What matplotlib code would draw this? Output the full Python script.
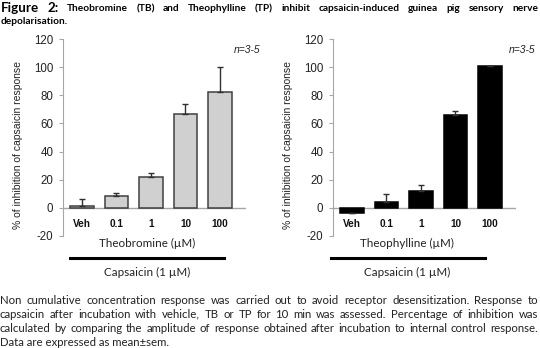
import matplotlib
matplotlib.use("Agg")
import matplotlib.pyplot as plt

# Concentrations and responses (% inhibition of capsaicin response, mean ± sem)
conc = ["Veh", "0.1", "1", "10", "100"]
tb_mean = [1, 8.5, 22, 66.5, 82]
tb_sem = [5.5, 2.2, 3, 7, 18]
tp_mean = [-3.3, 4.5, 12, 66, 100.5]
tp_sem = [0, 5, 4, 2.8, 0.3]
yticks = [-20, 0, 20, 40, 60, 80, 100, 120]

W, H = 540, 348
fig = plt.figure(figsize=(W / 100, H / 100), dpi=100)
fig.patch.set_facecolor("white")

BODY = "Lato"
ARIAL = "Liberation Sans"


def fx(x):
    return x / W


def fy(y):
    return 1 - y / H


def justify(items, y, x0, x1):
    """Place words so the line spans x0..x1 pixels (justified)."""
    r = fig.canvas.get_renderer()
    texts = []
    for word, kw in items:
        t = fig.text(0, fy(y), word, va="center", ha="left", **kw)
        texts.append(t)
    widths = [t.get_window_extent(renderer=r).width for t in texts]
    gap = (x1 - x0 - sum(widths)) / max(len(texts) - 1, 1)
    x = x0
    for t, w in zip(texts, widths):
        t.set_x(fx(x))
        x += w + gap


def words(s, **kw):
    return [(w, kw) for w in s.split()]


# Title
tkw = dict(family=BODY, weight="bold", size=7.3)
fkw = dict(family=BODY, weight="bold", size=9.6)
line1 = words("Figure 2:", **fkw) + words(
    "Theobromine (TB) and Theophylline (TP) inhibit capsaicin-induced guinea pig sensory nerve", **tkw)
justify(line1, 8.5, 1, 538)
fig.text(fx(1), fy(22), "depolarisation.", va="center", ha="left", **tkw)


def panel(x_axis, means, sems, face, edge, drug, xc, line_x0, line_x1, n_x):
    # Axes spanning -20..120 vertically
    y_top, y_bot = 39, 236
    x_right = x_axis + 5.3 * 34.5
    width = x_right - x_axis
    ax = fig.add_axes([fx(x_axis), fy(y_bot), fx(x_right) - fx(x_axis), fy(y_top) - fy(y_bot)])
    xs = list(range(len(conc)))
    ax.bar(xs, means, width=0.67, color=face, edgecolor=edge, linewidth=1.1, zorder=2)
    ax.errorbar(xs, means, yerr=[[0] * len(sems), sems], fmt="none",
                ecolor="#303030", elinewidth=1.0, capsize=2.5, capthick=1.0, zorder=3)
    ax.axhline(0, color="#a6a6a6", lw=1.0, zorder=1)
    ax.set_xlim(-0.55, 4.75)
    ax.set_ylim(-20, 120)
    ax.set_yticks(yticks)
    ax.set_yticklabels([str(v) for v in yticks], family=ARIAL, size=8.3, color="#222222")
    ax.tick_params(axis="y", length=3, width=0.8, color="#a6a6a6", pad=4)
    ax.set_xticks([])
    for s in ("top", "right", "bottom"):
        ax.spines[s].set_visible(False)
    ax.spines["left"].set_color("#a6a6a6")
    ax.spines["left"].set_linewidth(0.8)
    ax.set_facecolor("none")
    for x, lab in zip(xs, conc):
        ax.text(x, -11.5, lab, ha="center", va="center", family=ARIAL,
                weight="bold", size=7.2, color="#111111")
    ax.set_ylabel("% of inhibition of capsaicin response", family=ARIAL, size=7.5,
                  color="#222222")
    ax.yaxis.set_label_coords(-40 / width, 0.46)
    ax.text((n_x - x_axis) / width, 0.945, "n=3-5", transform=ax.transAxes,
            ha="right", va="center", style="italic", family=ARIAL, size=7.4, color="#222222")
    fig.text(fx(xc), fy(243), drug, ha="center", va="center", family=BODY, size=8.4,
             color="#222222")
    fig.add_artist(plt.Line2D([fx(line_x0), fx(line_x1)], [fy(258), fy(258)],
                              color="black", lw=2.2))
    fig.text(fx(xc), fy(272.5), "Capsaicin (1 µM)", ha="center", va="center",
             family=BODY, size=8.4, color="#222222")


panel(63, tb_mean, tb_sem, "#d0d0d0", "#404040", "Theobromine (µM)", 147, 70, 224, 260)
panel(333, tp_mean, tp_sem, "black", "black", "Theophylline (µM)", 407, 331, 485, 535)

# Caption
ckw = dict(family=BODY, size=8.2, color="#222222")
cap = [
    "Non cumulative concentration response was carried out to avoid receptor desensitization. Response to",
    "capsaicin after incubation with vehicle, TB or TP for 10 min was assessed. Percentage of inhibition was",
    "calculated by comparing the amplitude of response obtained after incubation to internal control response.",
]
for i, line in enumerate(cap):
    justify(words(line, **ckw), 300 + i * 14, 0, 538)
fig.text(0, fy(342), "Data are expressed as mean±sem.", va="center", ha="left", **ckw)

fig.savefig("out.png", dpi=100, facecolor="white")
